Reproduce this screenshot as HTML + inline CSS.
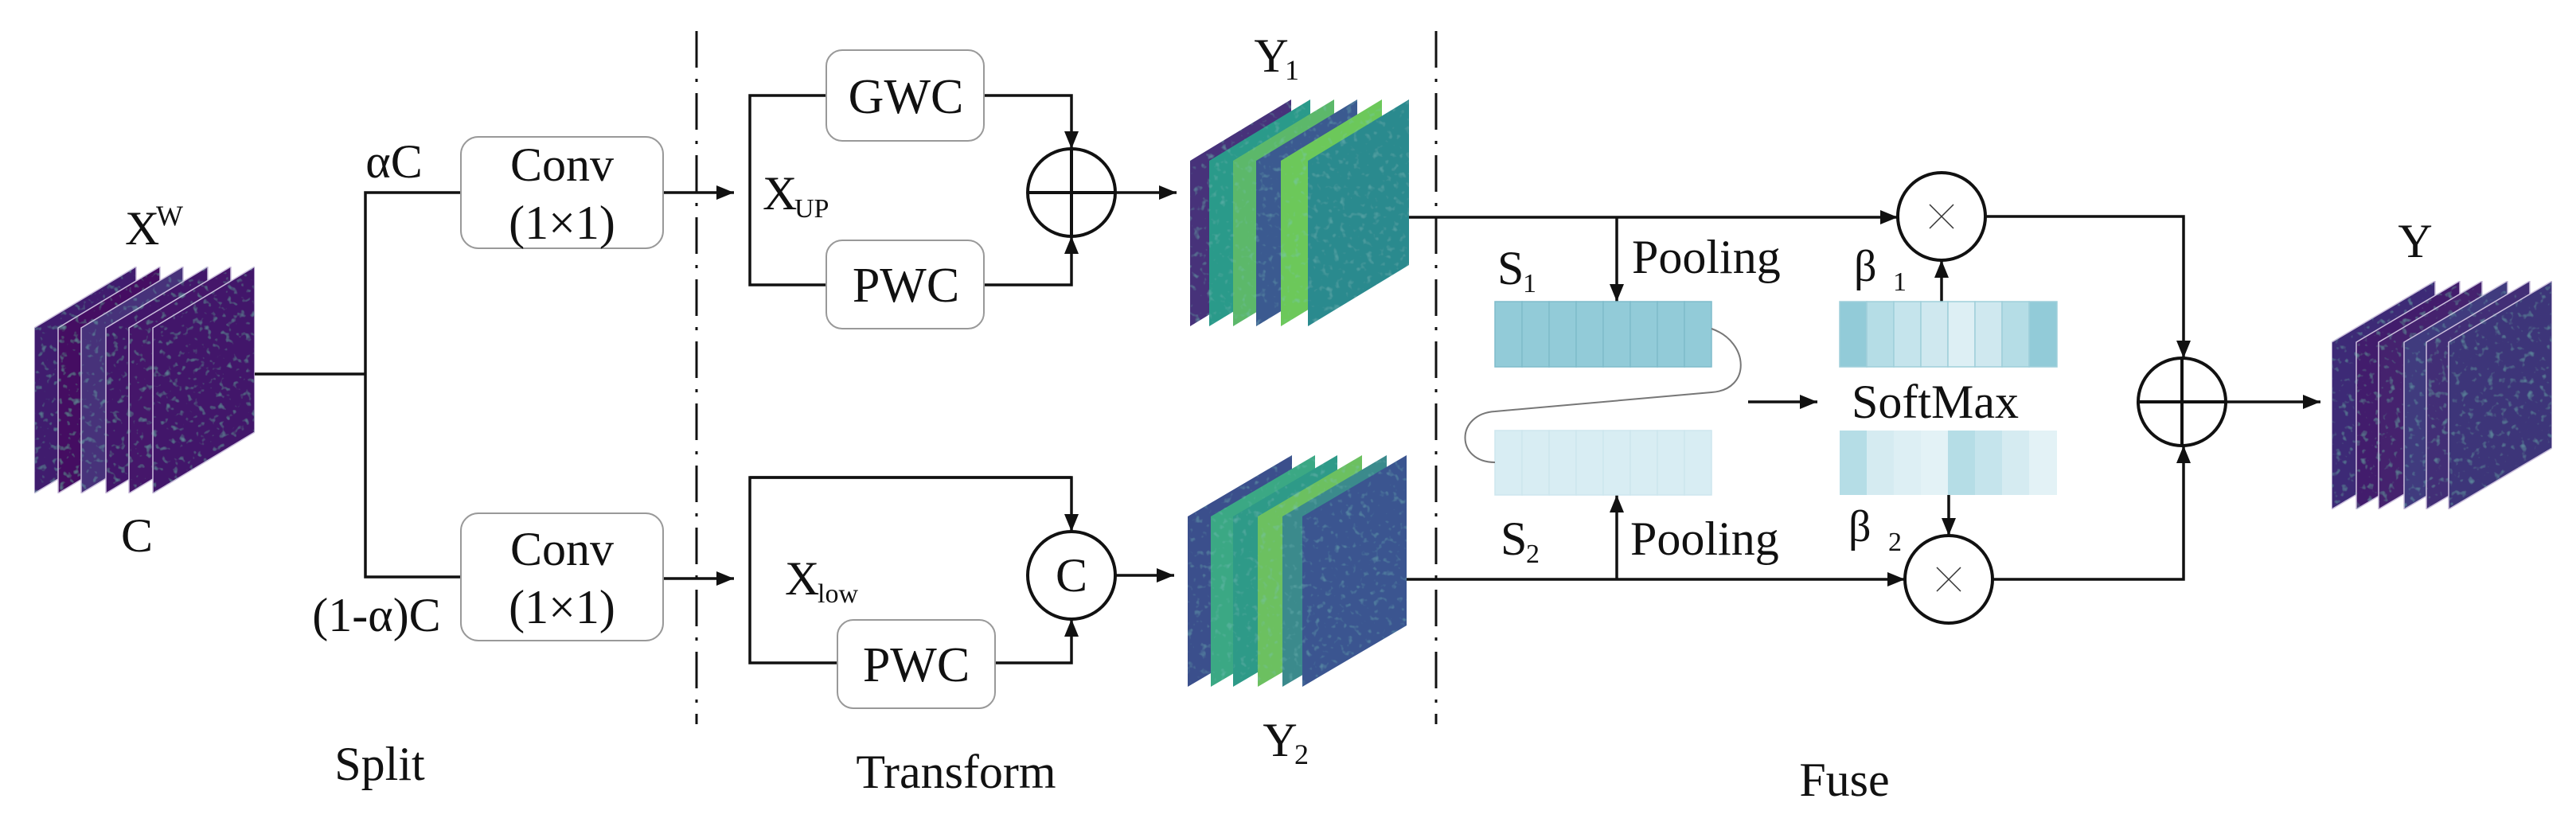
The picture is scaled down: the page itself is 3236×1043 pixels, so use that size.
<!DOCTYPE html>
<html><head><meta charset="utf-8"><style>
html,body{margin:0;padding:0;background:#fff;}
svg{display:block;font-family:"Liberation Serif","Times New Roman",serif;}
svg text{font-family:"Liberation Serif","Times New Roman",serif !important;fill:#111;}
</style></head><body>
<svg width="3236" height="1043" viewBox="0 0 3236 1043" xmlns="http://www.w3.org/2000/svg" font-family="Liberation Serif, serif">
<defs>
<marker id="a" markerUnits="userSpaceOnUse" markerWidth="24" markerHeight="20" refX="22" refY="9" orient="auto">
<path d="M0,0 L22,9 L0,18 z" fill="#111"/></marker>
<filter id="n" x="0" y="0" width="1" height="1">
<feTurbulence type="fractalNoise" baseFrequency="0.12" numOctaves="2" seed="3" result="t"/>
<feColorMatrix in="t" type="matrix" values="0 0 0 0 0.2  0 0 0 0 0.55  0 0 0 0 0.55  0 0 0 1.2 -0.72" result="c"/>
<feComposite in="c" in2="SourceGraphic" operator="atop"/>
</filter>
</defs>

<!-- X^W stack -->
<g filter="url(#n)" stroke="#cbbfdc" stroke-width="1.5">
<polygon points="43,412 171,335 171,543 43,620" fill="#3f1d6e"/>
<polygon points="73,412 201,335 201,543 73,620" fill="#440f62"/>
<polygon points="102,412 230,335 230,543 102,620" fill="#46307a"/>
<polygon points="133,412 261,335 261,543 133,620" fill="#42186a"/>
<polygon points="162,412 290,335 290,543 162,620" fill="#44146a"/>
<polygon points="192,412 320,335 320,543 192,620" fill="#43166b"/>
</g>
<text x="157" y="307" font-size="60">X</text><text x="196" y="283" font-size="36">W</text>
<text x="172" y="693" font-size="60" text-anchor="middle">C</text>

<!-- split lines -->
<g stroke="#111" stroke-width="3.5" fill="none">
<polyline points="320,470 459,470"/>
<polyline points="579,242 459,242 459,725 579,725"/>
<line x1="833" y1="242" x2="922" y2="242" marker-end="url(#a)"/>
<line x1="833" y1="727" x2="922" y2="727" marker-end="url(#a)"/>
</g>
<text x="495" y="223" font-size="60" text-anchor="middle">αC</text>
<text x="473" y="793" font-size="60" text-anchor="middle">(1-α)C</text>
<g fill="#fff" stroke="#999" stroke-width="2">
<rect x="579" y="172" width="254" height="140" rx="22"/>
<rect x="579" y="645" width="254" height="160" rx="22"/>
</g>
<text x="706" y="227" font-size="60" text-anchor="middle">Conv</text>
<text x="706" y="300" font-size="60" text-anchor="middle">(1×1)</text>
<text x="706" y="710" font-size="60" text-anchor="middle">Conv</text>
<text x="706" y="783" font-size="60" text-anchor="middle">(1×1)</text>

<!-- dashed dividers -->
<g stroke="#111" stroke-width="3" stroke-dasharray="46 14 4 14">
<line x1="875" y1="39" x2="875" y2="910"/>
<line x1="1804" y1="39" x2="1804" y2="910"/>
</g>

<!-- transform -->
<g stroke="#111" stroke-width="3.5" fill="none">
<polyline points="1038,120 942,120 942,358 1038,358"/>
<polyline points="1236,120 1346,120 1346,187" marker-end="url(#a)"/>
<polyline points="1236,358 1346,358 1346,297" marker-end="url(#a)"/>
<line x1="1401" y1="242" x2="1478" y2="242" marker-end="url(#a)"/>
<polyline points="1346,600 942,600 942,833 1052,833"/>
<polyline points="942,600 1346,600 1346,668" marker-end="url(#a)"/>
<polyline points="1250,833 1346,833 1346,778" marker-end="url(#a)"/>
<line x1="1401" y1="723" x2="1475" y2="723" marker-end="url(#a)"/>
<circle cx="1346" cy="242" r="55" stroke-width="4"/>
<line x1="1291" y1="242" x2="1401" y2="242" stroke-width="4"/>
<line x1="1346" y1="187" x2="1346" y2="297" stroke-width="4"/>
<circle cx="1346" cy="723" r="55" stroke-width="4"/>
</g>
<g fill="#fff" stroke="#999" stroke-width="2">
<rect x="1038" y="63" width="198" height="114" rx="20"/>
<rect x="1038" y="302" width="198" height="111" rx="20"/>
<rect x="1052" y="779" width="198" height="111" rx="20"/>
</g>
<text x="1138" y="142" font-size="62" text-anchor="middle">GWC</text>
<text x="1138" y="379" font-size="62" text-anchor="middle">PWC</text>
<text x="1151" y="856" font-size="62" text-anchor="middle">PWC</text>
<text x="1346" y="743" font-size="60" text-anchor="middle">C</text>
<text x="958" y="263" font-size="60">X</text><text x="998" y="273" font-size="34">UP</text>
<text x="986" y="747" font-size="60">X</text><text x="1027" y="757" font-size="34">low</text>

<!-- Y1 stack -->
<g filter="url(#n)">
<polygon points="1495,202 1622,125 1622,333 1495,410" fill="#46307a"/>
<polygon points="1519,202 1646,125 1646,333 1519,410" fill="#2a9a8a"/>
<polygon points="1549,202 1676,125 1676,333 1549,410" fill="#5cb86a"/>
<polygon points="1578,202 1705,125 1705,333 1578,410" fill="#3b5a90"/>
<polygon points="1609,202 1736,125 1736,333 1609,410" fill="#6cc85a"/>
<polygon points="1643,202 1770,125 1770,333 1643,410" fill="#2c8a8e"/>
</g>
<!-- Y2 stack -->
<g filter="url(#n)">
<polygon points="1492,649 1623,572 1623,786 1492,863" fill="#3b4f8c"/>
<polygon points="1521,649 1652,572 1652,786 1521,863" fill="#3aa884"/>
<polygon points="1549,649 1680,572 1680,786 1549,863" fill="#2e9a88"/>
<polygon points="1580,649 1711,572 1711,786 1580,863" fill="#6cc060"/>
<polygon points="1611,649 1742,572 1742,786 1611,863" fill="#3a8a8c"/>
<polygon points="1636,649 1767,572 1767,786 1636,863" fill="#3a5590"/>
</g>
<text x="1597" y="90" font-size="60" text-anchor="middle">Y</text><text x="1614" y="100" font-size="36">1</text>
<text x="1608" y="950" font-size="60" text-anchor="middle">Y</text><text x="1626" y="960" font-size="36">2</text>
<text x="1201" y="990" font-size="60" text-anchor="middle">Transform</text>
<text x="477" y="980" font-size="60" text-anchor="middle">Split</text>

<!-- Fuse -->
<g stroke="#111" stroke-width="3.5" fill="none">
<line x1="1770" y1="273" x2="2384" y2="273" marker-end="url(#a)"/>
<line x1="2031" y1="273" x2="2031" y2="379" marker-end="url(#a)"/>
<line x1="1767" y1="728" x2="2393" y2="728" marker-end="url(#a)"/>
<line x1="2031" y1="728" x2="2031" y2="622" marker-end="url(#a)"/>
<line x1="2439" y1="379" x2="2439" y2="327" marker-end="url(#a)"/>
<line x1="2448" y1="622" x2="2448" y2="673" marker-end="url(#a)"/>
<polyline points="2494,272 2743,272 2743,450" marker-end="url(#a)"/>
<polyline points="2503,728 2743,728 2743,560" marker-end="url(#a)"/>
<line x1="2796" y1="505" x2="2915" y2="505" marker-end="url(#a)"/>
<line x1="2196" y1="505" x2="2283" y2="505" marker-end="url(#a)"/>
<circle cx="2439" cy="272" r="55" stroke-width="4"/>
<circle cx="2448" cy="728" r="55" stroke-width="4"/>
<circle cx="2741" cy="505" r="55" stroke-width="4"/>
<line x1="2686" y1="505" x2="2796" y2="505" stroke-width="4"/>
<line x1="2741" y1="450" x2="2741" y2="560" stroke-width="4"/>
</g>
<g stroke="#333" stroke-width="1.5">
<line x1="2424" y1="257" x2="2454" y2="287"/><line x1="2454" y1="257" x2="2424" y2="287"/>
<line x1="2433" y1="713" x2="2463" y2="743"/><line x1="2463" y1="713" x2="2433" y2="743"/>
</g>

<!-- S bars -->
<g stroke="#7fbccb" stroke-width="1.5">
<rect x="1878" y="379" width="34" height="82" fill="#92cbd8"/>
<rect x="1912" y="379" width="34" height="82" fill="#92cbd8"/>
<rect x="1946" y="379" width="34" height="82" fill="#92cbd8"/>
<rect x="1980" y="379" width="34" height="82" fill="#92cbd8"/>
<rect x="2014" y="379" width="34" height="82" fill="#92cbd8"/>
<rect x="2048" y="379" width="34" height="82" fill="#92cbd8"/>
<rect x="2082" y="379" width="34" height="82" fill="#92cbd8"/>
<rect x="2116" y="379" width="34" height="82" fill="#92cbd8"/>
</g>
<g stroke="#cde6ee" stroke-width="1.5" fill="#d8edf3">
<rect x="1878" y="541" width="34" height="81"/>
<rect x="1912" y="541" width="34" height="81"/>
<rect x="1946" y="541" width="34" height="81"/>
<rect x="1980" y="541" width="34" height="81"/>
<rect x="2014" y="541" width="34" height="81"/>
<rect x="2048" y="541" width="34" height="81"/>
<rect x="2082" y="541" width="34" height="81"/>
<rect x="2116" y="541" width="34" height="81"/>
</g>
<path d="M2150,413 C2198,430 2200,490 2150,493 L1878,517 C1828,520 1828,581 1878,581" stroke="#777" stroke-width="2" fill="none"/>
<!-- beta bars -->
<g stroke="#9fcfda" stroke-width="1.5">
<rect x="2311" y="379" width="34" height="82" fill="#92cbd8"/>
<rect x="2345" y="379" width="34" height="82" fill="#b5dde6"/>
<rect x="2379" y="379" width="34" height="82" fill="#c5e4ec"/>
<rect x="2413" y="379" width="34" height="82" fill="#cfe8ef"/>
<rect x="2447" y="379" width="34" height="82" fill="#ddeff4"/>
<rect x="2481" y="379" width="34" height="82" fill="#cfe8ef"/>
<rect x="2515" y="379" width="34" height="82" fill="#b5dde6"/>
<rect x="2549" y="379" width="35" height="82" fill="#92cbd8"/>
</g>
<g>
<rect x="2311" y="541" width="34" height="81" fill="#b5dde6"/>
<rect x="2345" y="541" width="34" height="81" fill="#d5ebf1"/>
<rect x="2379" y="541" width="34" height="81" fill="#ddeff4"/>
<rect x="2413" y="541" width="34" height="81" fill="#e3f2f6"/>
<rect x="2447" y="541" width="34" height="81" fill="#b5dde6"/>
<rect x="2481" y="541" width="34" height="81" fill="#c5e4ec"/>
<rect x="2515" y="541" width="34" height="81" fill="#d5ebf1"/>
<rect x="2549" y="541" width="35" height="81" fill="#e3f2f6"/>
</g>
<text x="2050" y="343" font-size="60">Pooling</text>
<text x="2048" y="697" font-size="60">Pooling</text>
<text x="1881" y="357" font-size="60">S</text><text x="1913" y="367" font-size="34">1</text>
<text x="1885" y="697" font-size="60">S</text><text x="1917" y="707" font-size="34">2</text>
<text x="2329" y="353" font-size="56">β</text><text x="2378" y="365" font-size="34">1</text>
<text x="2322" y="680" font-size="56">β</text><text x="2372" y="692" font-size="34">2</text>
<text x="2431" y="525" font-size="60" text-anchor="middle">SoftMax</text>

<!-- Y output stack -->
<g filter="url(#n)" stroke="#cbbfdc" stroke-width="1.5">
<polygon points="2929,430 3059,353 3059,563 2929,640" fill="#3e2a76"/>
<polygon points="2960,430 3090,353 3090,563 2960,640" fill="#431a6c"/>
<polygon points="2988,430 3118,353 3118,563 2988,640" fill="#44206e"/>
<polygon points="3020,430 3150,353 3150,563 3020,640" fill="#3f3a7e"/>
<polygon points="3048,430 3178,353 3178,563 3048,640" fill="#432e76"/>
<polygon points="3076,430 3206,353 3206,563 3076,640" fill="#3e3479"/>
</g>
<text x="3034" y="323" font-size="60" text-anchor="middle">Y</text>
<text x="2317" y="1000" font-size="60" text-anchor="middle">Fuse</text>
</svg>
</body></html>
